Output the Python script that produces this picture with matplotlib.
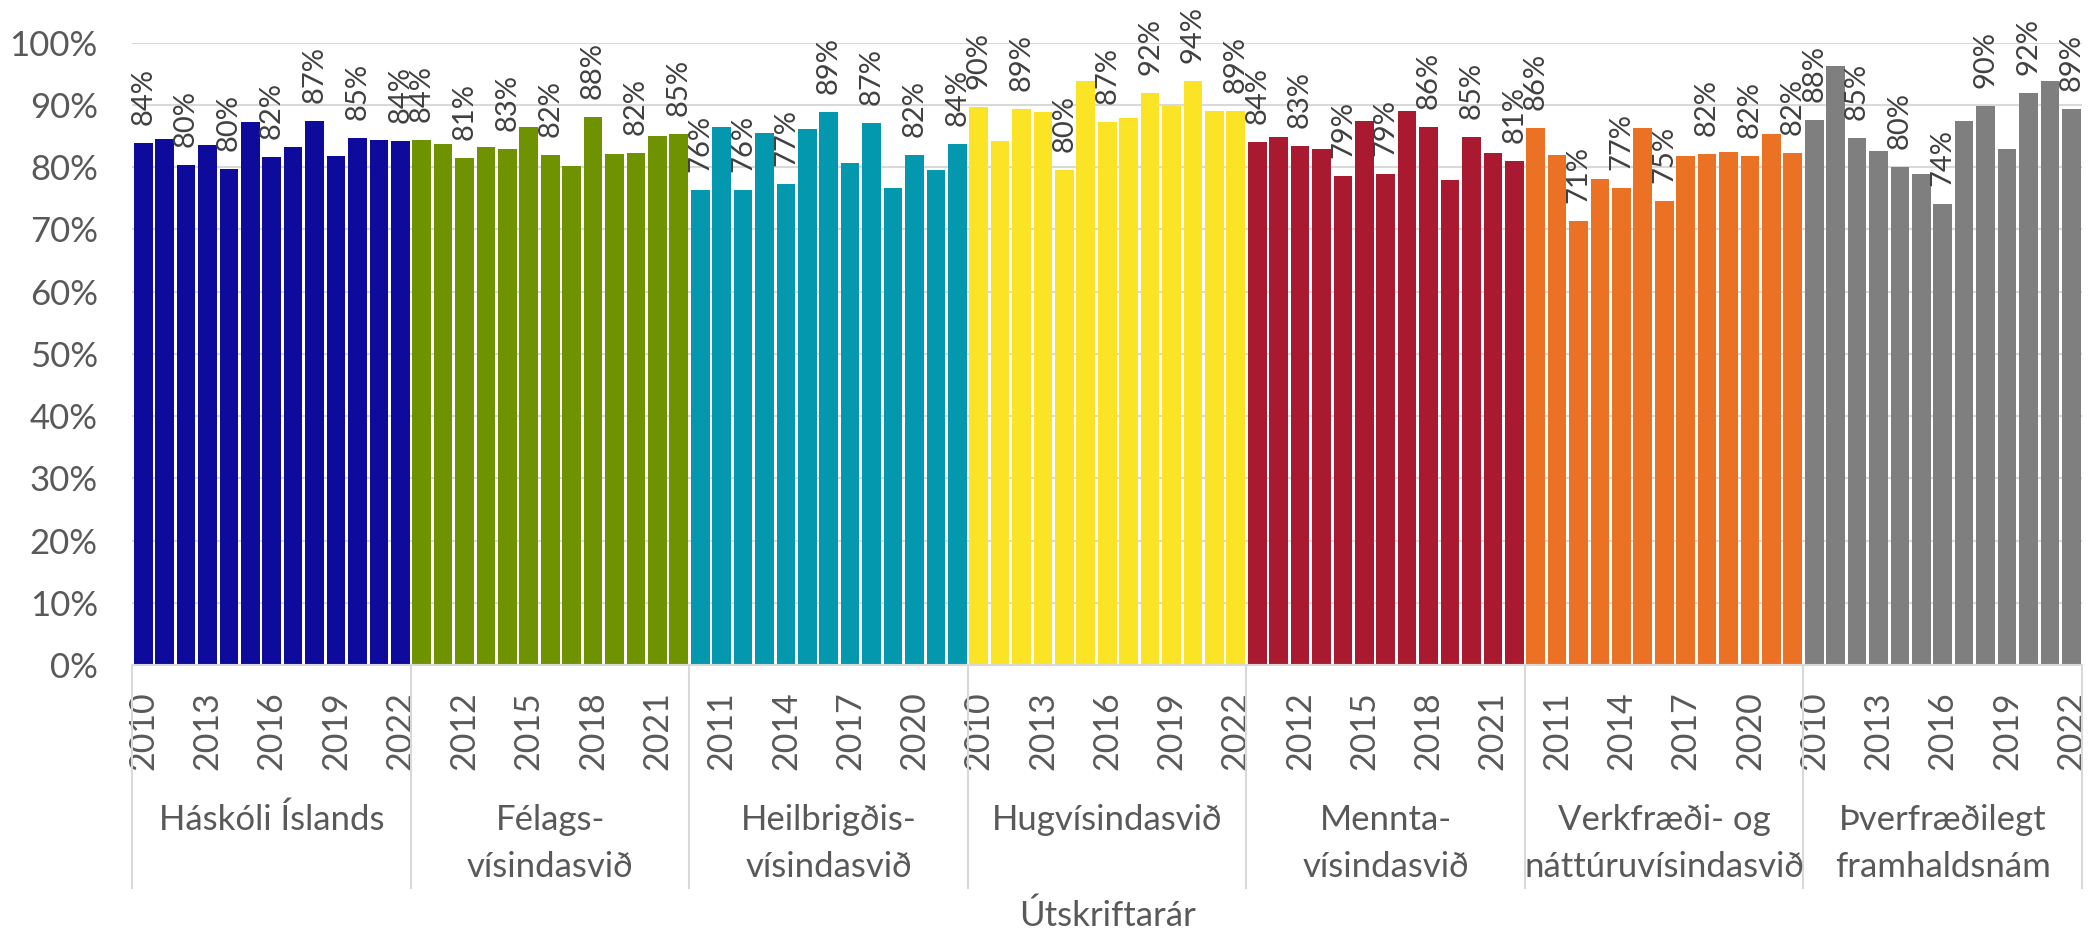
import numpy as np
import matplotlib
matplotlib.use("Agg")
import matplotlib.pyplot as plt
import matplotlib.transforms as mtransforms

plt.rcParams['font.family'] = ['Lato', 'DejaVu Sans']

years = list(range(2010, 2023))
groups = ["Háskóli Íslands", "Félags-\nvísindasvið", "Heilbrigðis-\nvísindasvið",
          "Hugvísindasvið", "Mennta-\nvísindasvið", "Verkfræði- og\nnáttúruvísindasvið",
          "Þverfræðilegt\nframhaldsnám"]

# hlutfall (%) eftir útskriftarári 2010-2022
haskoli = [83.9, 84.5, 80.3, 83.5, 79.7, 87.2, 81.6, 83.2, 87.4, 81.8, 84.7, 84.3, 84.2]
felags = [84.3, 83.7, 81.4, 83.2, 82.9, 86.4, 81.9, 80.2, 88.0, 82.1, 82.2, 85.0, 85.4]
heilbrigdis = [76.4, 86.4, 76.3, 85.5, 77.3, 86.1, 88.8, 80.6, 87.1, 76.7, 81.9, 79.5, 83.7]
hugvisinda = [89.6, 84.2, 89.4, 88.8, 79.6, 93.8, 87.2, 87.9, 91.9, 89.8, 93.8, 89.0, 89.0]
mennta = [84.0, 84.8, 83.4, 82.9, 78.6, 87.4, 78.9, 89.0, 86.4, 77.9, 84.8, 82.2, 81.0]
verkfraedi = [86.3, 81.9, 71.3, 78.1, 76.6, 86.3, 74.6, 81.8, 82.1, 82.4, 81.8, 85.3, 82.2]
thverfraedi = [87.6, 96.2, 84.7, 82.6, 80.0, 78.9, 74.1, 87.4, 89.8, 82.9, 91.9, 93.8, 89.3]

series = [haskoli, felags, heilbrigdis, hugvisinda, mennta, verkfraedi, thverfraedi]
colors = ['#0E0A9B', '#6F9200', '#0398AD', '#FBE426', '#A91A31', '#EB7125', '#7F7F7F']

fig = plt.figure(figsize=(20.93, 9.33), dpi=100)
ax = fig.add_axes([0.0633, 0.28725, 0.93144, 0.66698])

n = len(years)
for g, vals in enumerate(series):
    x = g * n + np.arange(n)
    ax.bar(x, vals, width=0.87, color=colors[g], zorder=2)
    for i in range(0, n, 2):
        ax.annotate(f"{vals[i]:.0f}%", (x[i], vals[i]), xytext=(0, 13),
                    textcoords='offset points', rotation=90, ha='center', va='bottom',
                    fontsize=21, color='#404040', annotation_clip=False)

total = n * len(series)
ax.set_xlim(-0.5, total - 0.5)
ax.set_ylim(0, 100)

ticks = np.arange(0, total, 3)
ax.set_xticks(ticks)
ax.set_xticklabels([str(years[t % n]) for t in ticks], rotation=90)
ax.set_yticks(np.arange(0, 101, 10))
ax.set_yticklabels([f"{v}%" for v in range(0, 101, 10)])
ax.tick_params(axis='x', length=0, pad=19, labelsize=24.5, labelcolor='#595959')
ax.tick_params(axis='y', length=0, pad=25, labelsize=25, labelcolor='#595959')

ax.yaxis.grid(True, color='#D9D9D9', linewidth=1.5, zorder=0)
ax.set_axisbelow(True)
for s in ['top', 'right', 'left']:
    ax.spines[s].set_visible(False)
ax.spines['bottom'].set_color('#D9D9D9')
ax.spines['bottom'].set_linewidth(1.5)

trans = mtransforms.blended_transform_factory(ax.transData, ax.transAxes)
line_y = [-0.2651, -0.3407]
for g, name in enumerate(groups):
    center = g * n + (n - 1) / 2
    for k, line in enumerate(name.split("\n")):
        ax.text(center, line_y[k], line, transform=trans, ha='center', va='baseline',
                fontsize=25, color='#595959')

for b in np.arange(len(series) + 1) * n - 0.5:
    ax.plot([b, b], [0, -0.3583], transform=trans, color='#D9D9D9', lw=1.5, clip_on=False)

ax.text(0.5, -0.4033, "Útskriftarár", transform=ax.transAxes, ha='center', va='center',
        fontsize=25, color='#595959')

fig.savefig("out.png", dpi=100)
